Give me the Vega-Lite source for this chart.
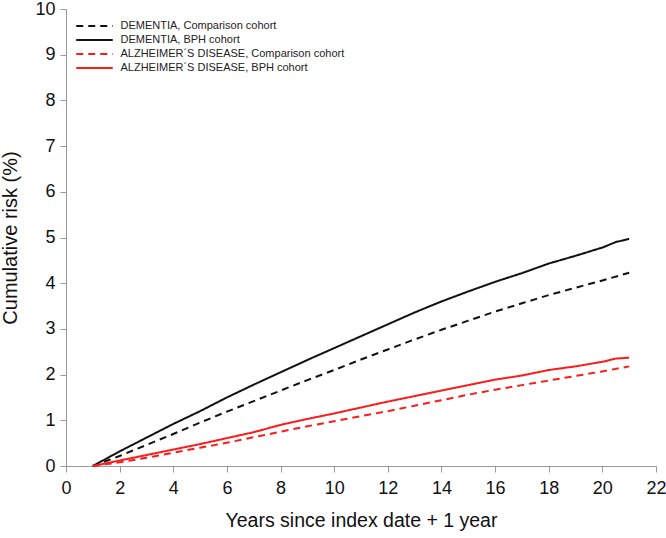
{
  "$schema": "https://vega.github.io/schema/vega-lite/v6.json",
  "width": 590,
  "height": 457,
  "autosize": "none",
  "padding": {"left": 66, "top": 9, "right": 10, "bottom": 72},
  "background": "white",
  "config": {
    "view": {"stroke": null},
    "font": "Liberation Sans",
    "axis": {"grid": false, "domainColor": "#999999", "tickColor": "#999999", "labelColor": "#111111", "titleColor": "#111111", "titleFontWeight": "normal", "labelFont": "Liberation Sans", "titleFont": "Liberation Sans"}
  },
  "data": {"values": [
    {"x": 1, "y": 0, "s": "DEMENTIA, BPH cohort"},
    {"x": 2, "y": 0.32, "s": "DEMENTIA, BPH cohort"},
    {"x": 3, "y": 0.62, "s": "DEMENTIA, BPH cohort"},
    {"x": 4, "y": 0.92, "s": "DEMENTIA, BPH cohort"},
    {"x": 5, "y": 1.2, "s": "DEMENTIA, BPH cohort"},
    {"x": 6, "y": 1.5, "s": "DEMENTIA, BPH cohort"},
    {"x": 7, "y": 1.78, "s": "DEMENTIA, BPH cohort"},
    {"x": 8, "y": 2.05, "s": "DEMENTIA, BPH cohort"},
    {"x": 9, "y": 2.32, "s": "DEMENTIA, BPH cohort"},
    {"x": 10, "y": 2.58, "s": "DEMENTIA, BPH cohort"},
    {"x": 11, "y": 2.84, "s": "DEMENTIA, BPH cohort"},
    {"x": 12, "y": 3.1, "s": "DEMENTIA, BPH cohort"},
    {"x": 13, "y": 3.36, "s": "DEMENTIA, BPH cohort"},
    {"x": 14, "y": 3.6, "s": "DEMENTIA, BPH cohort"},
    {"x": 15, "y": 3.82, "s": "DEMENTIA, BPH cohort"},
    {"x": 16, "y": 4.03, "s": "DEMENTIA, BPH cohort"},
    {"x": 17, "y": 4.22, "s": "DEMENTIA, BPH cohort"},
    {"x": 18, "y": 4.43, "s": "DEMENTIA, BPH cohort"},
    {"x": 19, "y": 4.6, "s": "DEMENTIA, BPH cohort"},
    {"x": 20, "y": 4.78, "s": "DEMENTIA, BPH cohort"},
    {"x": 20.5, "y": 4.9, "s": "DEMENTIA, BPH cohort"},
    {"x": 21, "y": 4.97, "s": "DEMENTIA, BPH cohort"},
    {"x": 1, "y": 0, "s": "DEMENTIA, Comparison cohort"},
    {"x": 2, "y": 0.22, "s": "DEMENTIA, Comparison cohort"},
    {"x": 3, "y": 0.46, "s": "DEMENTIA, Comparison cohort"},
    {"x": 4, "y": 0.7, "s": "DEMENTIA, Comparison cohort"},
    {"x": 5, "y": 0.95, "s": "DEMENTIA, Comparison cohort"},
    {"x": 6, "y": 1.19, "s": "DEMENTIA, Comparison cohort"},
    {"x": 7, "y": 1.42, "s": "DEMENTIA, Comparison cohort"},
    {"x": 8, "y": 1.65, "s": "DEMENTIA, Comparison cohort"},
    {"x": 9, "y": 1.88, "s": "DEMENTIA, Comparison cohort"},
    {"x": 10, "y": 2.1, "s": "DEMENTIA, Comparison cohort"},
    {"x": 11, "y": 2.33, "s": "DEMENTIA, Comparison cohort"},
    {"x": 12, "y": 2.55, "s": "DEMENTIA, Comparison cohort"},
    {"x": 13, "y": 2.77, "s": "DEMENTIA, Comparison cohort"},
    {"x": 14, "y": 2.98, "s": "DEMENTIA, Comparison cohort"},
    {"x": 15, "y": 3.18, "s": "DEMENTIA, Comparison cohort"},
    {"x": 16, "y": 3.38, "s": "DEMENTIA, Comparison cohort"},
    {"x": 17, "y": 3.56, "s": "DEMENTIA, Comparison cohort"},
    {"x": 18, "y": 3.74, "s": "DEMENTIA, Comparison cohort"},
    {"x": 19, "y": 3.9, "s": "DEMENTIA, Comparison cohort"},
    {"x": 20, "y": 4.06, "s": "DEMENTIA, Comparison cohort"},
    {"x": 21, "y": 4.23, "s": "DEMENTIA, Comparison cohort"},
    {"x": 1, "y": 0, "s": "ALZHEIMER´S DISEASE, BPH cohort"},
    {"x": 2, "y": 0.12, "s": "ALZHEIMER´S DISEASE, BPH cohort"},
    {"x": 3, "y": 0.24, "s": "ALZHEIMER´S DISEASE, BPH cohort"},
    {"x": 4, "y": 0.36, "s": "ALZHEIMER´S DISEASE, BPH cohort"},
    {"x": 5, "y": 0.48, "s": "ALZHEIMER´S DISEASE, BPH cohort"},
    {"x": 6, "y": 0.61, "s": "ALZHEIMER´S DISEASE, BPH cohort"},
    {"x": 7, "y": 0.74, "s": "ALZHEIMER´S DISEASE, BPH cohort"},
    {"x": 8, "y": 0.9, "s": "ALZHEIMER´S DISEASE, BPH cohort"},
    {"x": 9, "y": 1.03, "s": "ALZHEIMER´S DISEASE, BPH cohort"},
    {"x": 10, "y": 1.15, "s": "ALZHEIMER´S DISEASE, BPH cohort"},
    {"x": 11, "y": 1.28, "s": "ALZHEIMER´S DISEASE, BPH cohort"},
    {"x": 12, "y": 1.41, "s": "ALZHEIMER´S DISEASE, BPH cohort"},
    {"x": 13, "y": 1.53, "s": "ALZHEIMER´S DISEASE, BPH cohort"},
    {"x": 14, "y": 1.65, "s": "ALZHEIMER´S DISEASE, BPH cohort"},
    {"x": 15, "y": 1.77, "s": "ALZHEIMER´S DISEASE, BPH cohort"},
    {"x": 16, "y": 1.89, "s": "ALZHEIMER´S DISEASE, BPH cohort"},
    {"x": 17, "y": 1.98, "s": "ALZHEIMER´S DISEASE, BPH cohort"},
    {"x": 18, "y": 2.1, "s": "ALZHEIMER´S DISEASE, BPH cohort"},
    {"x": 19, "y": 2.18, "s": "ALZHEIMER´S DISEASE, BPH cohort"},
    {"x": 20, "y": 2.28, "s": "ALZHEIMER´S DISEASE, BPH cohort"},
    {"x": 20.5, "y": 2.35, "s": "ALZHEIMER´S DISEASE, BPH cohort"},
    {"x": 21, "y": 2.37, "s": "ALZHEIMER´S DISEASE, BPH cohort"},
    {"x": 1, "y": 0, "s": "ALZHEIMER´S DISEASE, Comparison cohort"},
    {"x": 2, "y": 0.08, "s": "ALZHEIMER´S DISEASE, Comparison cohort"},
    {"x": 3, "y": 0.18, "s": "ALZHEIMER´S DISEASE, Comparison cohort"},
    {"x": 4, "y": 0.29, "s": "ALZHEIMER´S DISEASE, Comparison cohort"},
    {"x": 5, "y": 0.4, "s": "ALZHEIMER´S DISEASE, Comparison cohort"},
    {"x": 6, "y": 0.51, "s": "ALZHEIMER´S DISEASE, Comparison cohort"},
    {"x": 7, "y": 0.63, "s": "ALZHEIMER´S DISEASE, Comparison cohort"},
    {"x": 8, "y": 0.75, "s": "ALZHEIMER´S DISEASE, Comparison cohort"},
    {"x": 9, "y": 0.87, "s": "ALZHEIMER´S DISEASE, Comparison cohort"},
    {"x": 10, "y": 0.98, "s": "ALZHEIMER´S DISEASE, Comparison cohort"},
    {"x": 11, "y": 1.09, "s": "ALZHEIMER´S DISEASE, Comparison cohort"},
    {"x": 12, "y": 1.2, "s": "ALZHEIMER´S DISEASE, Comparison cohort"},
    {"x": 13, "y": 1.32, "s": "ALZHEIMER´S DISEASE, Comparison cohort"},
    {"x": 14, "y": 1.44, "s": "ALZHEIMER´S DISEASE, Comparison cohort"},
    {"x": 15, "y": 1.56, "s": "ALZHEIMER´S DISEASE, Comparison cohort"},
    {"x": 16, "y": 1.67, "s": "ALZHEIMER´S DISEASE, Comparison cohort"},
    {"x": 17, "y": 1.77, "s": "ALZHEIMER´S DISEASE, Comparison cohort"},
    {"x": 18, "y": 1.87, "s": "ALZHEIMER´S DISEASE, Comparison cohort"},
    {"x": 19, "y": 1.97, "s": "ALZHEIMER´S DISEASE, Comparison cohort"},
    {"x": 20, "y": 2.07, "s": "ALZHEIMER´S DISEASE, Comparison cohort"},
    {"x": 21, "y": 2.18, "s": "ALZHEIMER´S DISEASE, Comparison cohort"}
  ]},
  "mark": {"type": "line", "strokeWidth": 2},
  "encoding": {
    "x": {"field": "x", "type": "quantitative", "scale": {"domain": [0, 22], "nice": false},
      "axis": {"values": [0,2,4,6,8,10,12,14,16,18,20,22], "title": "Years since index date + 1 year", "labelFontSize": 18, "titleFontSize": 19.5, "tickSize": 6, "labelPadding": 7, "titlePadding": 14, "labelFlush": false}},
    "y": {"field": "y", "type": "quantitative", "scale": {"domain": [0, 10], "nice": false},
      "axis": {"values": [0,1,2,3,4,5,6,7,8,9,10], "title": "Cumulative risk (%)", "labelFontSize": 18, "titleFontSize": 20, "tickSize": 6, "labelPadding": 5, "titlePadding": 14, "labelFlush": false}},
    "color": {"field": "s", "type": "nominal",
      "scale": {"domain": ["DEMENTIA, Comparison cohort", "DEMENTIA, BPH cohort", "ALZHEIMER´S DISEASE, Comparison cohort", "ALZHEIMER´S DISEASE, BPH cohort"], "range": ["#111111", "#111111", "#ff1a1a", "#ff1a1a"]},
      "legend": {"orient": "none", "legendX": 20.5, "legendY": 9, "title": null, "symbolType": "M-2.8,0H2.8", "symbolSize": 170, "symbolStrokeWidth": 2, "labelFontSize": 11, "labelColor": "#222222", "rowPadding": 1, "labelOffset": 18, "labelLimit": 400}},
    "strokeDash": {"field": "s", "type": "nominal",
      "scale": {"domain": ["DEMENTIA, Comparison cohort", "DEMENTIA, BPH cohort", "ALZHEIMER´S DISEASE, Comparison cohort", "ALZHEIMER´S DISEASE, BPH cohort"], "range": [[7, 5], [1, 0], [7, 5], [1, 0]]},
      "legend": null}
  }
}
